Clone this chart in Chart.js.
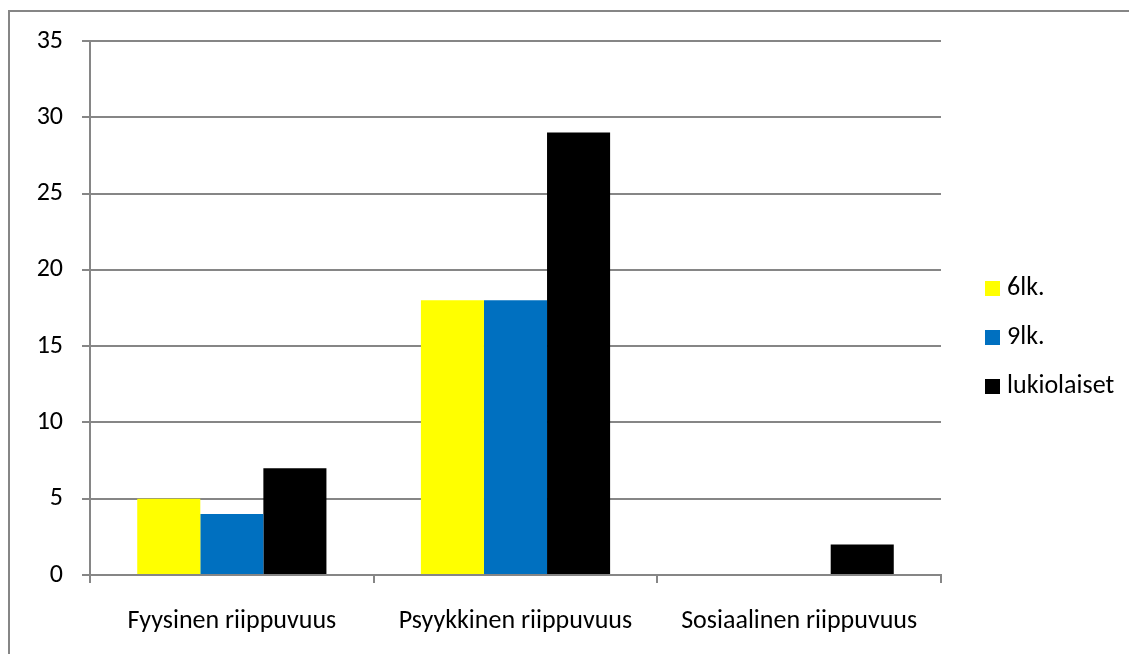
<!DOCTYPE html>
<html>
<head>
<meta charset="utf-8">
<script src="https://cdn.jsdelivr.net/npm/chart.js@4/dist/chart.umd.min.js"></script>
<style>
    html, body { margin: 0; padding: 0; background: #fff; }
    #wrap { position: relative; width: 1129px; height: 654px; }
</style>
</head>
<body>
<div id="wrap"><canvas id="riippuvuusChart"></canvas></div>
<script>
const categories = ['Fyysinen riippuvuus', 'Psyykkinen riippuvuus', 'Sosiaalinen riippuvuus'];
const seriesNames = ['6lk.', '9lk.', 'lukiolaiset'];
const values6lk = [5, 18, 0];
const values9lk = [4, 18, 0];
const valuesLukio = [7, 29, 2];
const seriesColors = ['#FFFF00', '#0070C0', '#000000'];
const yTicks = [0, 5, 10, 15, 20, 25, 30, 35];

const FONT = 'Carlito, Lato, "Liberation Sans", sans-serif';
const FONT_SIZE = 26;
const GRID = '#868686';

// frame line along the top and left edges, plus the legend on the right
const framePlugin = {
    id: 'frame',
    beforeDraw(chart) {
        const ctx = chart.ctx;
        ctx.save();
        ctx.strokeStyle = GRID;
        ctx.lineWidth = 2;
        ctx.beginPath();
        ctx.moveTo(9, 654);
        ctx.lineTo(9, 11);
        ctx.lineTo(1129, 11);
        ctx.stroke();
        ctx.restore();
    },
    afterDraw(chart) {
        const ctx = chart.ctx;
        const x = chart.chartArea.right + 44;
        let y = 288;
        ctx.save();
        ctx.font = FONT_SIZE + 'px ' + FONT;
        ctx.textBaseline = 'middle';
        chart.data.datasets.forEach(ds => {
            ctx.fillStyle = ds.backgroundColor;
            ctx.fillRect(x, y - 7, 15, 15);
            ctx.fillStyle = '#000';
            ctx.fillText(ds.label, x + 22, y);
            y += 49;
        });
        ctx.restore();
    }
};

const datasets = [values6lk, values9lk, valuesLukio].map((data, i) => ({
    label: seriesNames[i],
    data: data,
    backgroundColor: seriesColors[i],
    borderWidth: 0,
    categoryPercentage: 0.667,
    barPercentage: 1.0
}));

new Chart(document.getElementById('riippuvuusChart'), {
    type: 'bar',
    data: { labels: categories, datasets: datasets },
    options: {
        responsive: true,
        maintainAspectRatio: false,
        animation: false,
        layout: { padding: { top: 41, right: 188, bottom: 0, left: 0 } },
        plugins: {
            legend: { display: false },
            tooltip: { enabled: false }
        },
        scales: {
            x: {
                grid: {
                    display: true,
                    drawOnChartArea: false,
                    offset: true,
                    tickLength: 8,
                    tickColor: GRID,
                    lineWidth: 2
                },
                border: { color: GRID, width: 2 },
                ticks: {
                    color: '#000',
                    padding: 23,
                    font: { family: FONT, size: FONT_SIZE },
                    maxRotation: 0
                },
                afterFit: scale => { scale.height = 79; }
            },
            y: {
                min: 0,
                max: 35,
                afterBuildTicks: scale => { scale.ticks = yTicks.map(v => ({ value: v })); },
                grid: {
                    color: GRID,
                    lineWidth: 2,
                    tickLength: 8,
                    tickColor: GRID
                },
                border: { color: GRID, width: 2 },
                ticks: {
                    color: '#000',
                    padding: 19,
                    font: { family: FONT, size: FONT_SIZE }
                },
                afterFit: scale => { scale.width = 90; }
            }
        }
    },
    plugins: [framePlugin]
});
</script>
</body>
</html>
